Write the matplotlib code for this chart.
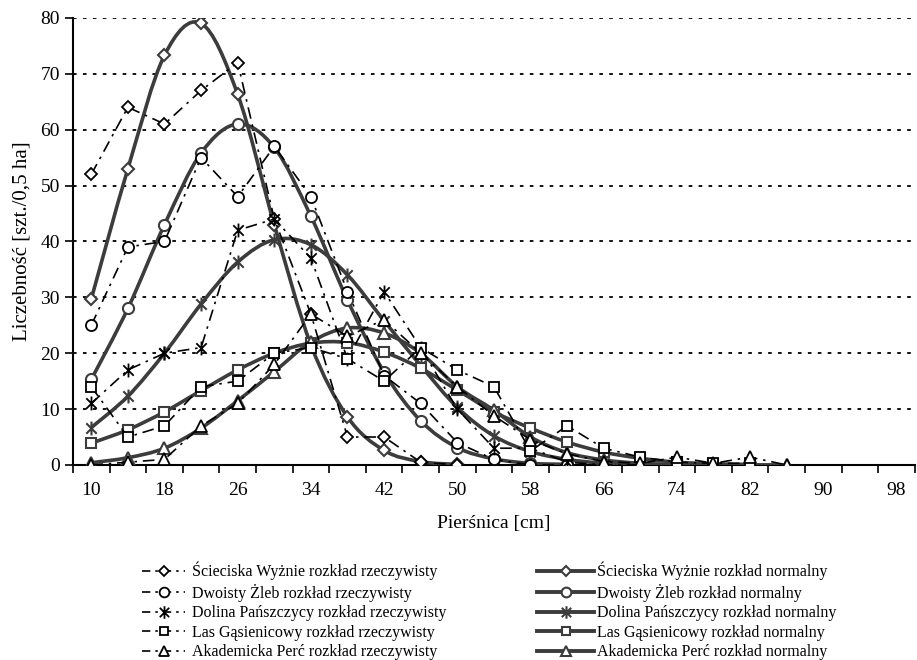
import matplotlib
matplotlib.use("Agg")
import matplotlib.pyplot as plt
from matplotlib.lines import Line2D
from matplotlib.path import Path
from matplotlib.patches import PathPatch

plt.rcParams['font.family'] = ['Liberation Serif', 'DejaVu Serif']

# category axis: diameter classes (cm)
x_labels = [10, 18, 26, 34, 42, 50, 58, 66, 74, 82, 90, 98]

# Ścieciska Wyżnie
sw_x = [10, 14, 18, 22, 26, 30, 34, 38, 42, 46, 50]
sw_act = [52, 64, 61, 67, 72, 44, 27, 5, 5, 0.5, 0]
sw_norm = [29.7, 53, 73.3, 79, 66.3, 43, 21.5, 8.6, 2.6, 0.6, 0.1]

# Dwoisty Żleb
dz_x = [10, 14, 18, 22, 26, 30, 34, 38, 42, 46, 50, 54, 58, 62]
dz_act = [25, 39, 40, 55, 48, 57, 48, 31, 16, 11, 4, 1, 0, 0]
dz_norm = [15.3, 28, 43, 55.8, 61, 56.8, 44.5, 29.5, 16.6, 7.9, 3.1, 1.1, 0.3, 0.1]

# Dolina Pańszczycy
dp_x = [10, 14, 18, 22, 26, 30, 34, 38, 42, 46, 50, 54, 58, 62, 66, 70]
dp_act = [11, 17, 20, 21, 42, 44, 37, 19, 31, 21, 10, 3, 3, 0.5, 0, 0]
dp_norm = [6.7, 12.3, 20, 28.8, 36.3, 40.3, 39.4, 34, 25.8, 17.8, 10.3, 5.2, 2.4, 1, 0.3, 0.1]

# Las Gąsienicowy
lg_x = [10, 14, 18, 22, 26, 30, 34, 38, 42, 46, 50, 54, 58, 62, 66, 70, 74, 78, 82]
lg_act = [14, 5, 7, 14, 15, 20, 21, 19, 15, 21, 17, 14, 2.5, 7, 3, 1.4, 0.5, 0.3, 0.3]
lg_norm = [3.9, 6.3, 9.5, 13.3, 17, 20, 21.8, 21.9, 20.2, 17.3, 13.4, 9.5, 6.6, 4.1, 2.3, 1.2, 0.5, 0.2, 0.1]

# Akademicka Perć
ap_x = [10, 14, 18, 22, 26, 30, 34, 38, 42, 46, 50, 54, 58, 62, 66, 70, 74, 78, 82, 86]
ap_act = [0, 0.5, 1, 7, 11, 18, 27, 23, 26, 20, 14, 8.8, 4.5, 2, 0.6, 0.3, 1.4, 0.3, 1.4, 0]
ap_norm = [0.4, 1.3, 3, 6.6, 11.5, 16.7, 22, 24.5, 23.6, 20, 14, 9.8, 5, 2.2, 0.9, 0.3, 0.1, 0.05, 0.02, 0.01]

names = ["Ścieciska Wyżnie", "Dwoisty Żleb", "Dolina Pańszczycy", "Las Gąsienicowy", "Akademicka Perć"]

star = Path([(0, -1), (0, 1), (-0.75, -0.75), (0.75, 0.75), (-0.75, 0.75), (0.75, -0.75)],
            [Path.MOVETO, Path.LINETO, Path.MOVETO, Path.LINETO, Path.MOVETO, Path.LINETO])
markers = ["D", "o", star, "s", "^"]
msizes = [6, 8, 10, 7, 8]
series = [(sw_x, sw_act, sw_norm), (dz_x, dz_act, dz_norm), (dp_x, dp_act, dp_norm),
          (lg_x, lg_act, lg_norm), (ap_x, ap_act, ap_norm)]

gray = "#3c3c3c"
dashdot = (0, (7, 3.5, 1.5, 3.5))


def smooth_path(xs, ys):
    """Cubic Bezier path through the data points (drawing style only)."""
    pts = list(zip(xs, ys))
    n = len(pts)
    verts = [pts[0]]
    codes = [Path.MOVETO]
    for i in range(n - 1):
        p0 = pts[i - 1] if i > 0 else pts[i]
        p1 = pts[i]
        p2 = pts[i + 1]
        p3 = pts[i + 2] if i + 2 < n else pts[i + 1]
        c1 = (p1[0] + (p2[0] - p0[0]) / 6, p1[1] + (p2[1] - p0[1]) / 6)
        c2 = (p2[0] - (p3[0] - p1[0]) / 6, p2[1] - (p3[1] - p1[1]) / 6)
        verts += [c1, c2, p2]
        codes += [Path.CURVE4] * 3
    return Path(verts, codes)


fig = plt.figure(figsize=(9.17, 6.60), dpi=100)
ax = fig.add_axes([0.0796, 0.2955, 0.918, 0.6775])

for (xs, act, nrm), mk, ms in zip(series, markers, msizes):
    ax.add_patch(PathPatch(smooth_path(xs, nrm), fill=False, edgecolor=gray, lw=2.6,
                           transform=ax.transData, zorder=3, clip_on=True))
    ax.plot(xs, nrm, ls='none', marker=mk, ms=ms, mfc="white", mec=gray, mew=1.5, zorder=3)
    ax.plot(xs, act, color="black", lw=1.2, ls=dashdot, marker=mk, ms=ms, mfc="white",
            mec="black", mew=1.3, zorder=4)

ax.set_xlim(8, 100)
ax.set_ylim(0, 80)
ax.set_xticks(list(range(8, 101, 4)))
ax.set_xticklabels([])
ax.set_xticks(x_labels, minor=True)
ax.set_xticklabels([str(v) for v in x_labels], minor=True, fontsize=14)
ax.tick_params(axis='x', which='minor', length=0, pad=12)
ax.tick_params(axis='x', which='major', length=6, width=1.2, direction='out')
ax.set_yticks(list(range(0, 81, 10)))
ax.set_yticklabels([str(v) for v in range(0, 81, 10)], fontsize=14)
ax.tick_params(axis='y', length=6, width=1.2, direction='out')

for yv in range(10, 81, 10):
    ax.axhline(yv, color="black", lw=1.3, ls=(0, (2, 3.5)), zorder=1)

for s in ['top', 'right']:
    ax.spines[s].set_visible(False)
ax.spines['left'].set_linewidth(1.5)
ax.spines['bottom'].set_linewidth(1.5)

ax.set_xlabel("Pierśnica [cm]", fontsize=14, labelpad=12)
ax.set_ylabel("Liczebność [szt./0,5 ha]", fontsize=15, labelpad=6)

h_act, l_act, h_norm, l_norm = [], [], [], []
for name, mk, ms in zip(names, markers, msizes):
    h_act.append(Line2D([], [], color="black", lw=1.2, ls=(0, (5, 3, 1.5, 3)), marker=mk, ms=ms - 1,
                        mfc="white", mec="black", mew=1.3))
    l_act.append(f"{name} rozkład rzeczywisty")
    h_norm.append(Line2D([], [], color=gray, lw=2.8, marker=mk, ms=ms - 1,
                         mfc="white", mec=gray, mew=1.5))
    l_norm.append(f"{name} rozkład normalny")

leg_kw = dict(loc='upper left', frameon=False, fontsize=11.5, labelspacing=0.22,
              borderaxespad=0, borderpad=0)
fig.legend(h_act, l_act, bbox_to_anchor=(0.155, 0.149), handlelength=2.7,
           handletextpad=0.45, **leg_kw)
fig.legend(h_norm, l_norm, bbox_to_anchor=(0.5856, 0.149), handlelength=3.6,
           handletextpad=0.15, **leg_kw)

fig.savefig("out.png", dpi=100)
